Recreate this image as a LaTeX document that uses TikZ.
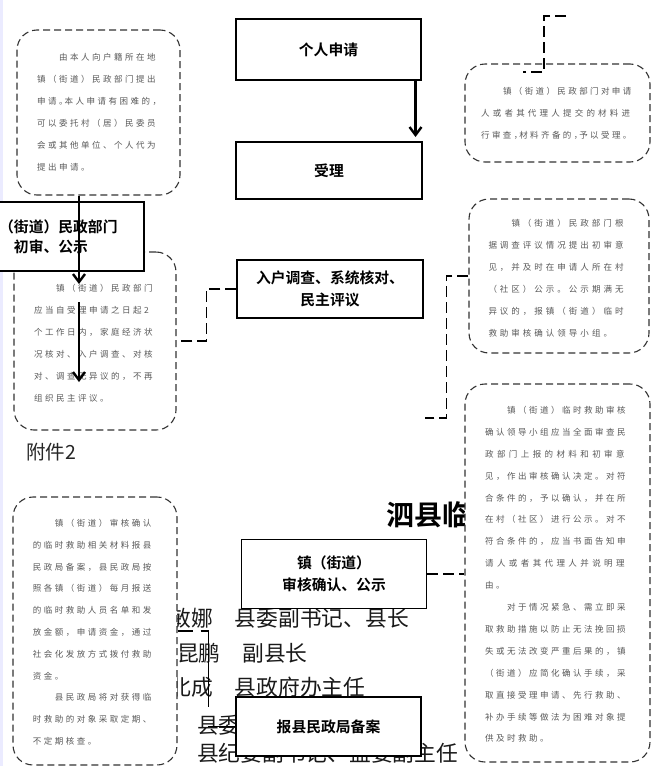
\documentclass[tikz,border=0pt]{standalone}
\usepackage{fontspec}
\newfontfamily\cjk{Noto Sans CJK SC}
\newfontfamily\cjkb{Noto Sans CJK SC Bold}
\usetikzlibrary{arrows.meta}
\makeatletter
\def\chend{\chend}
\newcommand\hw{}
\def\chs#1{\ifx\chend#1\let\chnext\relax\else\ifx\hw#1\let\chnext\chshalf\else\hbox to \chpitch pt{#1\hss}\let\chnext\chs\fi\fi\chnext}
\def\chshalf#1{\hbox to \dimexpr\chpitch pt/2\relax{#1\hss}\chs}
\newcommand\cl[2][11]{\def\chpitch{#1}\chs#2\chend}
\makeatother
\begin{document}
\begin{tikzpicture}[x=1pt,y=-1pt,
 dbox/.style={draw=black!80, line width=1.1pt, dash pattern=on 7pt off 4pt, rounded corners=20pt, fill=white, inner sep=0pt},
 btext/.style={inner sep=0pt, anchor=north west, align=left, text=black!65, font=\cjk\fontsize{8.5}{22}\selectfont},
 sbox/.style={draw=black, line width=1.4pt, fill=white, inner sep=0pt, align=center, font=\cjkb\fontsize{14.8}{22}\selectfont},
 dconn/.style={line width=1.5pt, dash pattern=on 11pt off 5pt},
 arr/.style={line width=2.4pt, -{Straight Barb[length=8pt,width=12pt]}},
 nametext/.style={inner sep=0pt, anchor=west, font=\cjk\fontsize{21.75}{24}\selectfont, text=black!90}]
\clip (0,0) rectangle (651,766);
\fill[blue!8!white] (0,0) rectangle (3,766);
% background texts
\node[nametext] (nm1) at (169.5,618.3) {敏娜　县委副书记、县长};
\node[nametext] (nm2) at (177,653.3) {昆鹏　副县长};
\node[nametext] (nm3) at (169.5,686.7) {北成　县政府办主任};
\node[nametext] (nm4) at (197,725) {县委};
\node[nametext] (nm5) at (197,753.3) {县纪委副书记、监委副主任};
\node[inner sep=0pt, anchor=west, font=\cjkb\fontsize{28}{30}\selectfont] (ttl) at (386.7,515) {泗县临};
\node[inner sep=0pt, anchor=west, font=\cjk\fontsize{19.5}{22}\selectfont, text=black!85] (att) at (26,451.7) {附件2};
% dashed boxes
\node[dbox, minimum width=163pt, minimum height=165pt] (b1) at (98.5,112.5) {};
\node[btext] (b1t) at (37,50.2) {\rule{0pt}{10pt}\hspace*{22pt}\cl{由本人向户籍所在地}\\
\cl{镇（街道）民政部门提出}\\
\cl{申请\hw。本人申请有困难的\hw，}\\
\cl{可以委托村（居）民委员}\\
\cl{会或其他单位、个人代为}\\
\cl{提出申请。}};
\node[dbox, minimum width=162pt, minimum height=178pt] (b3) at (95,341) {};
\node[btext] (b3t) at (34,281.2) {\rule{0pt}{10pt}\hspace*{22pt}\cl{镇（街道）民政部门}\\
\cl{应当自受理申请之日起2}\\
\cl{个工作日内，家庭经济状}\\
\cl{况核对、入户调查、对核}\\
\cl{对、调查无异议的，不再}\\
\cl{组织民主评议。}};
\node[dbox, minimum width=164pt, minimum height=268pt] (b4) at (95,631) {};
\node[btext, font=\cjk\fontsize{8.5}{21.8}\selectfont] (b4t) at (32.7,516.2) {\rule{0pt}{10pt}\hspace*{22pt}\cl{镇（街道）审核确认}\\
\cl{的临时救助相关材料报县}\\
\cl{民政局备案，县民政局按}\\
\cl{照各镇（街道）每月报送}\\
\cl{的临时救助人员名单和发}\\
\cl{放金额，申请资金，通过}\\
\cl{社会化发放方式拨付救助}\\
\cl{资金。}\\
\hspace*{22pt}\cl{县民政局将对获得临}\\
\cl{时救助的对象采取定期、}\\
\cl{不定期核查。}};
\node[dbox, minimum width=185pt, minimum height=98pt] (rb1) at (557.5,113) {};
\node[btext, font=\cjk\fontsize{8.5}{22.2}\selectfont] (rb1t) at (481,83.9) {\rule{0pt}{10pt}\hspace*{21.8pt}\cl[10.9]{镇（街道）民政部门对申请}\\
\cl[11.7]{人或者其代理人提交的材料进}\\
\cl[10.9]{行审查\hw，材料齐备的\hw，予以受理。}};
\node[dbox, minimum width=180pt, minimum height=154pt] (rb2) at (559,276) {};
\node[btext] (rb2t) at (488.3,216.2) {\rule{0pt}{10pt}\hspace*{23pt}\cl[11.5]{镇（街道）民政部门根}\\
\cl[11.5]{据调查评议情况提出初审意}\\
\cl[11.5]{见，并及时在申请人所在村}\\
\cl[11.5]{（社区）公示。公示期满无}\\
\cl[11.5]{异议的，报镇（街道）临时}\\
\cl[11.5]{救助审核确认领导小组。}};
\node[dbox, minimum width=185pt, minimum height=378pt] (rb3) at (557.5,573) {};
\node[btext, font=\cjk\fontsize{8.5}{21.9}\selectfont] (rb3t) at (485,403.2) {\rule{0pt}{10pt}\hspace*{22pt}\cl{镇（街道）临时救助审核}\\
\cl{确认领导小组应当全面审查民}\\
\cl[11.9]{政部门上报的材料和初审意}\\
\cl{见，作出审核确认决定。对符}\\
\cl{合条件的，予以确认，并在所}\\
\cl{在村（社区）进行公示。对不}\\
\cl{符合条件的，应当书面告知申}\\
\cl[11.9]{请人或者其代理人并说明理}\\
\cl{由。}\\
\hspace*{22pt}\cl{对于情况紧急、需立即采}\\
\cl{取救助措施以防止无法挽回损}\\
\cl{失或无法改变严重后果的，镇}\\
\cl{（街道）应简化确认手续，采}\\
\cl{取直接受理申请、先行救助、}\\
\cl{补办手续等做法为困难对象提}\\
\cl{供及时救助。}};
% solid boxes
\node[sbox, minimum width=185pt, minimum height=61pt] (n1) at (328.5,49.5) {个人申请};
\node[sbox, minimum width=186pt, minimum height=57pt] (n2) at (329,170.5) {受理};
\node[sbox, minimum width=186pt, minimum height=58pt] (n3) at (330,289) {入户调查、系统核对、\\民主评议};
\node[sbox, minimum width=186pt, minimum height=69pt, font=\cjkb\fontsize{14.8}{20}\selectfont] (n4) at (51,236.5) {镇（街道）民政部门\\初审、公示};
\node[sbox, minimum width=185pt, minimum height=69pt] (n5) at (334,574) {镇（街道）\\审核确认、公示};
\node[sbox, minimum width=185pt, minimum height=59pt] (n6) at (328.5,726.5) {报县民政局备案};
% connectors
\coordinate (a0) at (415.5,137);
\coordinate (a1e) at (79,284);
\coordinate (a2s) at (79,302);
\coordinate (a2e) at (79,382);
\coordinate (c2) at (425,418);
\coordinate (c3) at (566,16);
\coordinate (c4) at (523,72);
\draw[arr] (n1.south east -| a0) -- (a0);
\draw[arr] (b1.south -| a1e) -- (a1e);
\draw[arr] (a2s) -- (a2e);
\draw[dconn] (n3.west) -- ++(-30,0) |- (b3.east);
\draw[dconn] (rb2.west) -- ++(-22,0) |- (c2);
\draw[dconn] (c3) -- ++(-22,0) |- (c4);
\draw[dconn] (n5.east) -- (n5.east -| rb3.west);
\draw[line width=1.3pt, dash pattern=on 15pt off 8pt on 84pt off 19pt on 40pt off 2pt] (b4.east) -- ++(31,0) |- (n6.west);
\end{tikzpicture}
\end{document}
